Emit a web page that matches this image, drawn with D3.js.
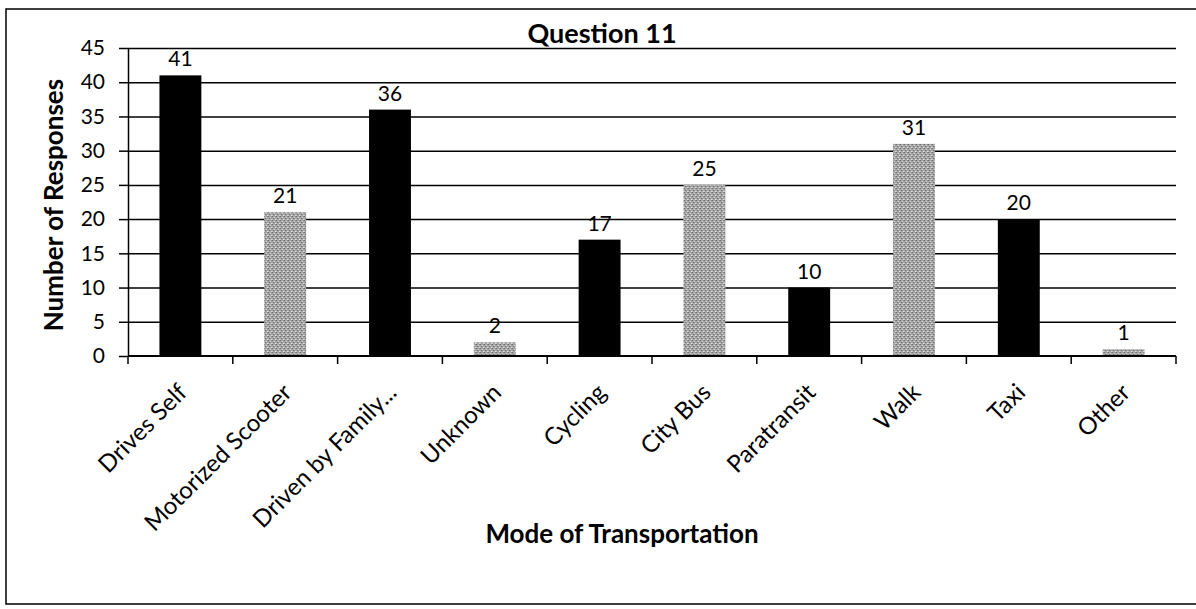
<!DOCTYPE html>
<html>
<head>
<meta charset="utf-8">
<script src="https://cdn.jsdelivr.net/npm/d3@7"></script>
<style>
  body { margin: 0; background: #fff; }
  text { font-family: Lato, "Open Sans", sans-serif; fill: #000; }
</style>
</head>
<body>
<div class="canvas"></div>
<script>
// Data
const categories = ['Drives Self', 'Motorized Scooter', 'Driven by Family...', 'Unknown', 'Cycling',
    'City Bus', 'Paratransit', 'Walk', 'Taxi', 'Other'];
const responses = [41, 21, 36, 2, 17, 25, 10, 31, 20, 1];
const yTicks = [0, 5, 10, 15, 20, 25, 30, 35, 40, 45];

// Graph set up
const svgWidth = 1196;
const svgHeight = 609;
const margin = {top: 48, right: 20, bottom: 253, left: 128};
const graphWidth = 1176 - margin.left;
const graphHeight = svgHeight - margin.top - margin.bottom;

const svg = d3.select('.canvas')
    .append('svg')
    .attr('width', svgWidth)
    .attr('height', svgHeight);

// stippled grey like the scan
const defs = svg.append('defs');
const pat = defs.append('pattern')
    .attr('id', 'stipple')
    .attr('width', 4)
    .attr('height', 4)
    .attr('patternUnits', 'userSpaceOnUse');
pat.append('rect').attr('width', 4).attr('height', 4).attr('fill', '#a6a6a6');
[[0, 0, '#6e6e6e'], [2, 1, '#d4d4d4'], [1, 2, '#787878'], [3, 3, '#dcdcdc'], [3, 0, '#8c8c8c'], [0, 3, '#c4c4c4'], [2, 2, '#909090']]
    .forEach(p => pat.append('rect').attr('x', p[0]).attr('y', p[1]).attr('width', 1).attr('height', 1).attr('fill', p[2]));

// chart frame (right edge cut off in the scan)
svg.append('path')
    .attr('d', `M${svgWidth},9 H6 V604 H${svgWidth}`)
    .attr('fill', 'none')
    .attr('stroke', '#000')
    .attr('stroke-width', 1.5);

const graph = svg.append('g')
    .attr('transform', `translate(${margin.left},${margin.top})`);

// Scales
const x = d3.scaleBand()
    .domain(categories)
    .range([0, graphWidth])
    .paddingInner(0.6)
    .paddingOuter(0.3);

const y = d3.scaleLinear()
    .domain([0, 45])
    .range([graphHeight, 0]);

// Gridlines
graph.append('g')
    .attr('class', 'grid')
    .call(d3.axisLeft(y).tickValues(yTicks.slice(1)).tickSize(-graphWidth).tickFormat(''))
    .call(g => g.select('.domain').remove())
    .selectAll('line')
        .attr('stroke', '#000')
        .attr('stroke-width', 1.5);

// Y axis
const yAxisGroup = graph.append('g')
    .attr('class', 'y-axis')
    .call(d3.axisLeft(y).tickValues(yTicks).tickSize(9).tickPadding(14).tickSizeOuter(0));

yAxisGroup.select('.domain').attr('stroke-width', 1.5);
yAxisGroup.selectAll('line').attr('stroke-width', 1.5);
yAxisGroup.selectAll('text')
    .style('font-size', '21px')
    .style('font-family', 'Lato');

// Bars
graph.selectAll('rect.bar')
    .data(responses)
    .enter()
    .append('rect')
        .attr('class', 'bar')
        .attr('x', (d, i) => x(categories[i]))
        .attr('y', d => y(d))
        .attr('width', x.bandwidth())
        .attr('height', d => graphHeight - y(d))
        .attr('fill', (d, i) => i % 2 === 0 ? '#000' : 'url(#stipple)');

// Value labels
graph.selectAll('text.value')
    .data(responses)
    .enter()
    .append('text')
        .attr('class', 'value')
        .attr('x', (d, i) => x(categories[i]) + x.bandwidth() / 2)
        .attr('y', d => y(d) - 9)
        .attr('text-anchor', 'middle')
        .style('font-size', '21px')
        .text(d => d);

// X axis: ticks between categories
const xAxisGroup = graph.append('g')
    .attr('class', 'x-axis')
    .attr('transform', `translate(0,${graphHeight})`);

xAxisGroup.append('line')
    .attr('x1', 0)
    .attr('x2', graphWidth)
    .attr('stroke', '#000')
    .attr('stroke-width', 2);

xAxisGroup.selectAll('line.tick')
    .data(d3.range(categories.length + 1))
    .enter()
    .append('line')
        .attr('class', 'tick')
        .attr('x1', i => i * x.step())
        .attr('x2', i => i * x.step())
        .attr('y1', 0)
        .attr('y2', 8)
        .attr('stroke', '#000')
        .attr('stroke-width', 1.5);

xAxisGroup.selectAll('text')
    .data(categories)
    .enter()
    .append('text')
        .attr('transform', d => `translate(${x(d) + x.bandwidth() / 2 + 8},38) rotate(-45)`)
        .attr('text-anchor', 'end')
        .style('font-size', '24px')
        .text(d => d);

// Titles
svg.append('text')
    .attr('x', 602)
    .attr('y', 43)
    .attr('text-anchor', 'middle')
    .style('font-size', '27px')
    .style('font-weight', 'bold')
    .text('Question 11');

svg.append('text')
    .attr('x', 622)
    .attr('y', 543)
    .attr('text-anchor', 'middle')
    .style('font-size', '26px')
    .style('font-weight', 'bold')
    .text('Mode of Transportation');

svg.append('text')
    .attr('transform', 'translate(63,205) rotate(-90)')
    .attr('text-anchor', 'middle')
    .style('font-size', '26px')
    .style('font-weight', 'bold')
    .text('Number of Responses');
</script>
</body>
</html>
